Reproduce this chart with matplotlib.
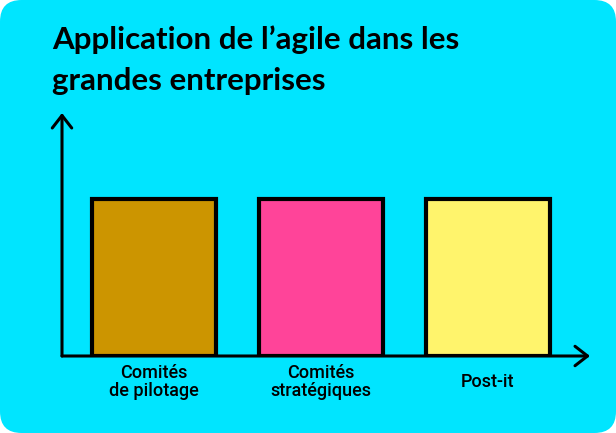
import matplotlib
matplotlib.use("Agg")
import matplotlib.pyplot as plt
from matplotlib.patches import FancyBboxPatch

title = "Application de l\u2019agile dans les\ngrandes entreprises"
categories = ["Comités\nde pilotage", "Comités\nstratégiques", "Post-it"]
values = [1, 1, 1]
colors = ["#CC9500", "#FF4499", "#FFF46C"]
bg = "#00E5FF"

W, H = 616, 433
fig = plt.figure(figsize=(W / 100, H / 100), dpi=100, facecolor="white")
fig.patches.append(FancyBboxPatch((0, 0), 1, 1, boxstyle="round,pad=0,rounding_size=0.035",
                                  transform=fig.transFigure, facecolor=bg, edgecolor="none",
                                  mutation_aspect=W / H, zorder=-10))

x0, x1, y0, y1 = 62, 590, 356, 113
ax = fig.add_axes([x0 / W, (H - y0) / H, (x1 - x0) / W, (y0 - y1) / H])
ax.set_facecolor("none")
for s in ax.spines.values():
    s.set_visible(False)

xs = list(range(len(categories)))
ax.bar(xs, values, width=0.74, color=colors, edgecolor="black", linewidth=3, zorder=2)
ax.set_xlim(-0.551, 2.611)
ax.set_ylim(0, 1.548)
ax.set_yticks([])
ax.set_xticks(xs, labels=categories)
ax.tick_params(axis="x", length=0, pad=18.5)
for lab in ax.get_xticklabels():
    lab.set_va("center")
    lab.set_family(["Roboto", "DejaVu Sans"])
    lab.set_fontsize(13)
    lab.set_fontweight("medium")
    lab.set_linespacing(1.0)

# axis arrows
arrow = dict(arrowstyle="->,head_length=0.9,head_width=0.7", lw=2.2, color="black",
             shrinkA=0, shrinkB=0)
ax.annotate("", xy=(0, 1), xytext=(0, 0), xycoords="axes fraction", arrowprops=arrow, zorder=3)
ax.annotate("", xy=(1, 0), xytext=(0, 0), xycoords="axes fraction", arrowprops=arrow, zorder=3)

fig.text(52 / W, 1 - 25 / H, title, ha="left", va="top", fontsize=22.5, fontweight="bold",
         family=["Lato", "DejaVu Sans"], linespacing=1.6, color="black")

fig.savefig("out.png", dpi=100, facecolor="white")
